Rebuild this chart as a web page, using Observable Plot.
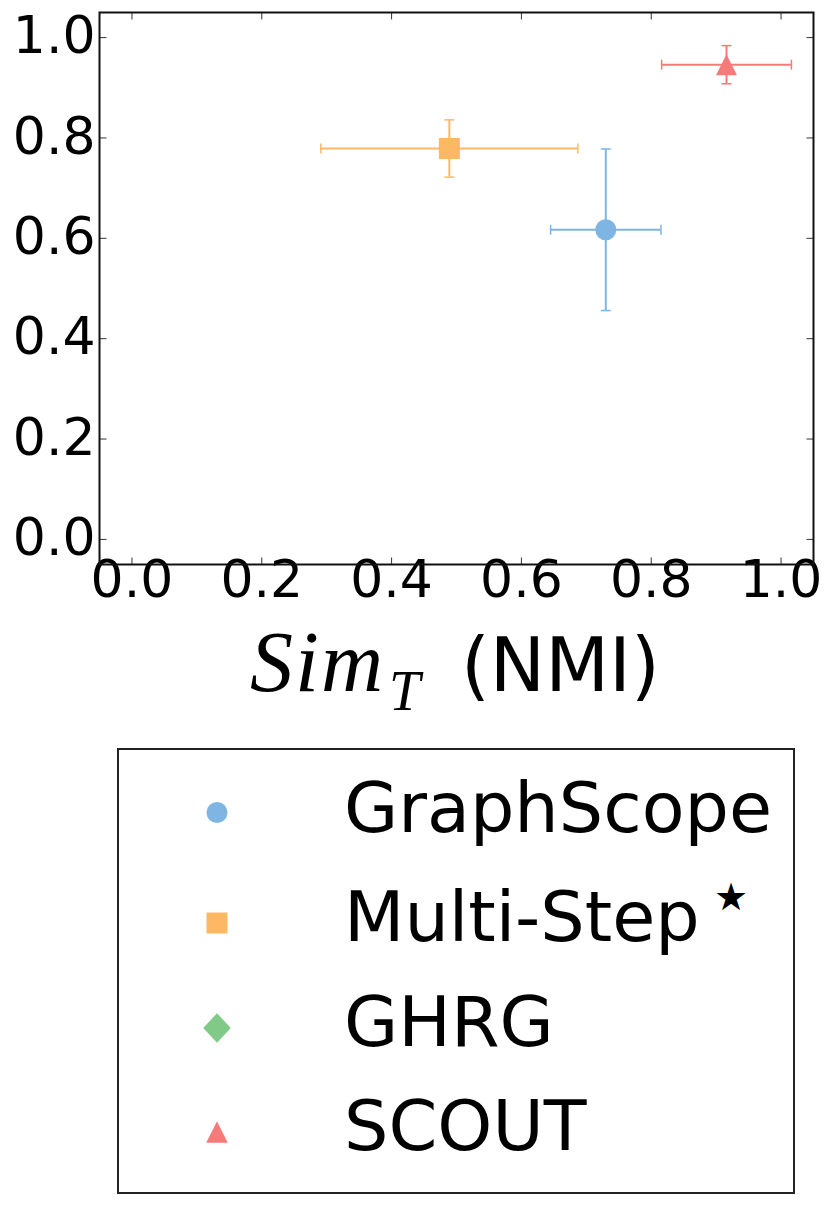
<!DOCTYPE html>
<html>
<head>
<meta charset="utf-8">
<script src="https://cdn.jsdelivr.net/npm/d3@7"></script>
<script src="https://cdn.jsdelivr.net/npm/@observablehq/plot@0.6"></script>
<style>
  html, body { margin: 0; padding: 0; background: #fff; }
  #chart svg, #legend svg { display: block; }
</style>
</head>
<body>
<div id="chart"></div>
<div id="legend"></div>
<script>
// ---- data ----
const methods   = ["GraphScope", "Multi-Step", "GHRG", "SCOUT"];
const simT      = [0.730, 0.489, null, 0.916];   // x: Sim_T (NMI)
const simTErr   = [0.085, 0.198, null, 0.100];
const simS      = [0.617, 0.779, null, 0.946];   // y
const simSErr   = [0.161, 0.057, null, 0.038];
const colors    = ["#7fb5e2", "#fdb863", "#80c986", "#f47b7a"];
const xTicks    = [0.0, 0.2, 0.4, 0.6, 0.8, 1.0];
const yTicks    = [0.0, 0.2, 0.4, 0.6, 0.8, 1.0];

// ---- custom symbols (r = half extent) ----
const rad = s => Math.sqrt(s / Math.PI);
const symCircle  = {draw(c, s){ const r = rad(s); c.moveTo(r, 0); c.arc(0, 0, r, 0, 2 * Math.PI); c.closePath(); }};
const symSquare  = {draw(c, s){ const r = rad(s); c.rect(-r, -r, 2 * r, 2 * r); }};
const symTri     = {draw(c, s){ const r = rad(s); c.moveTo(0, -r); c.lineTo(r, r); c.lineTo(-r, r); c.closePath(); }};
const symDiamond = {draw(c, s){ const r = rad(s); c.moveTo(0, -r); c.lineTo(r * 0.93, 0); c.lineTo(0, r); c.lineTo(-r * 0.93, 0); c.closePath(); }};
const symV       = {draw(c, s){ const r = rad(s); c.moveTo(0, -r); c.lineTo(0, r); }};
const symH       = {draw(c, s){ const r = rad(s); c.moveTo(-r, 0); c.lineTo(r, 0); }};
const tickUp     = {draw(c, s){ const r = rad(s); c.moveTo(0, 0); c.lineTo(0, -r); }};
const tickDown   = {draw(c, s){ const r = rad(s); c.moveTo(0, 0); c.lineTo(0, r); }};
const tickRight  = {draw(c, s){ const r = rad(s); c.moveTo(0, 0); c.lineTo(r, 0); }};
const tickLeft   = {draw(c, s){ const r = rad(s); c.moveTo(0, 0); c.lineTo(-r, 0); }};
const symbols = [symCircle, symSquare, symDiamond, symTri];

const rows = methods.map((m, i) => ({m, i, x: simT[i], xe: simTErr[i], y: simS[i], ye: simSErr[i]}))
                    .filter(d => d.x != null);

const FONT = "DejaVu Sans, sans-serif";
const tickLen = 7;

const seriesMarks = rows.flatMap(d => {
  const col = colors[d.i];
  return [
    Plot.ruleY([d], {y: "y", x1: e => e.x - e.xe, x2: e => e.x + e.xe, stroke: col, strokeWidth: 2}),
    Plot.ruleX([d], {x: "x", y1: e => e.y - e.ye, y2: e => e.y + e.ye, stroke: col, strokeWidth: 2}),
    Plot.dot([d, d], {x: (e, j) => j ? e.x + e.xe : e.x - e.xe, y: "y", symbol: symV, r: 5, stroke: col, strokeWidth: 1.5, fill: "none"}),
    Plot.dot([d, d], {x: "x", y: (e, j) => j ? e.y + e.ye : e.y - e.ye, symbol: symH, r: 5, stroke: col, strokeWidth: 1.5, fill: "none"}),
    Plot.dot([d], {x: "x", y: "y", symbol: symbols[d.i], r: 10.5, fill: col, stroke: "none"})
  ];
});

const chart = Plot.plot({
  width: 830,
  height: 720,
  marginLeft: 99,
  marginRight: 17,
  marginTop: 12,
  marginBottom: 156,
  x: {domain: [-0.05, 1.05], axis: null},
  y: {domain: [-0.05, 1.05], axis: null},
  style: {background: "#fff", fontFamily: FONT, overflow: "visible"},
  marks: [
    // inward ticks on all four sides
    Plot.dot(xTicks, {x: d => d, frameAnchor: "bottom", symbol: tickUp,   r: tickLen, stroke: "#333", strokeWidth: 1, fill: "none"}),
    Plot.dot(xTicks, {x: d => d, frameAnchor: "top",    symbol: tickDown, r: tickLen, stroke: "#333", strokeWidth: 1, fill: "none"}),
    Plot.dot(yTicks, {y: d => d, frameAnchor: "left",   symbol: tickRight, r: tickLen, stroke: "#333", strokeWidth: 1, fill: "none"}),
    Plot.dot(yTicks, {y: d => d, frameAnchor: "right",  symbol: tickLeft,  r: tickLen, stroke: "#333", strokeWidth: 1, fill: "none"}),
    // tick labels
    Plot.text(xTicks, {x: d => d, frameAnchor: "bottom", dy: 32, text: d => d.toFixed(1), fontSize: 52, fill: "#000", fontFamily: FONT}),
    Plot.text(yTicks, {y: d => d, frameAnchor: "left", dx: -4, dy: -1, textAnchor: "end", text: d => d.toFixed(1), fontSize: 52, fill: "#000", fontFamily: FONT}),
    ...seriesMarks,
    Plot.frame({stroke: "#111", strokeWidth: 2})
  ]
});
document.getElementById("chart").appendChild(chart);

// x-axis label: Sim_T (NMI)
const lab = d3.select(chart).append("text")
  .attr("x", 250).attr("y", 691)
  .attr("text-anchor", "start")
  .attr("fill", "#000");
lab.append("tspan").attr("font-family", "Liberation Serif, serif").attr("font-style", "italic")
  .attr("font-size", 86).attr("letter-spacing", 2).text("Sim");
lab.append("tspan").attr("font-family", "Liberation Serif, serif").attr("font-style", "italic")
  .attr("font-size", 56).attr("dy", 19).attr("dx", 4).text("T");
lab.append("tspan").attr("x", 461).attr("font-family", FONT).attr("font-size", 74).attr("dy", -19).text("(NMI)");

// ---- legend (below the plot) ----
const LH = 485, top0 = 720;
const lsvg = d3.select("#legend").append("svg").attr("width", 830).attr("height", LH)
  .style("background", "#fff");
lsvg.append("rect").attr("x", 118).attr("y", 749 - top0).attr("width", 676).attr("height", 444)
  .attr("fill", "none").attr("stroke", "#222").attr("stroke-width", 2);
const markerY = [812.5, 923, 1028, 1132];
const textY   = [832, 941, 1046, 1149.5];
const symR    = [10.5, 10.5, 14.8, 10.8];
methods.forEach((m, i) => {
  lsvg.append("path")
    .attr("transform", `translate(217,${markerY[i] - top0})`)
    .attr("d", d3.symbol(symbols[i], symR[i] * symR[i] * Math.PI)())
    .attr("fill", colors[i]);
  lsvg.append("text").attr("x", 344).attr("y", textY[i] - top0)
    .attr("font-family", FONT).attr("font-size", 70).attr("fill", "#000").text(m);
});
// superscript star after Multi-Step
lsvg.append("text").attr("x", 731).attr("y", 897 - top0)
  .attr("text-anchor", "middle").attr("dominant-baseline", "central")
  .attr("font-family", FONT).attr("font-size", 38).attr("fill", "#000").text("★");
</script>
</body>
</html>
